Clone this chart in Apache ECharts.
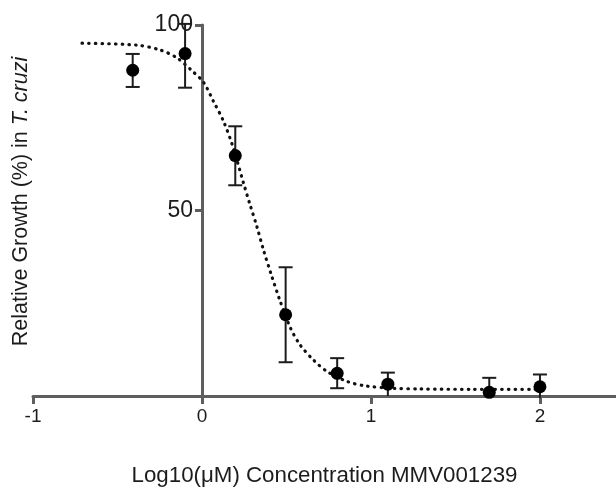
<!DOCTYPE html>
<html>
<head>
<meta charset="utf-8">
<script src="https://cdn.jsdelivr.net/npm/echarts@6/dist/echarts.min.js"></script>
<style>
  html, body { margin: 0; padding: 0; background: #fff; }
  #chart { width: 616px; height: 487px; }
</style>
</head>
<body>
<div id="chart"></div>
<script>
// measured points: log10 concentration vs relative growth (%)
var logConc  = [-0.41, -0.10, 0.197, 0.495, 0.80, 1.10, 1.70, 2.00];
var growth   = [87.8, 92.3, 64.8, 21.9, 6.1, 3.2, 1.0, 2.5];
var errHigh  = [92.2, 100.3, 72.7, 34.7, 10.2, 6.3, 4.9, 5.8];
var errLow   = [83.3, 83.1, 56.8, 9.1, 2.1, 0, 0, -0.5];

// fitted dotted curve
var curveX = [-0.71, -0.39, -0.25, -0.15, -0.06, 0.01, 0.067, 0.126, 0.18, 0.245, 0.284, 0.324,
              0.363, 0.41, 0.46, 0.52, 0.58, 0.66, 0.74, 0.86, 0.97, 1.13, 1.29, 1.6, 2.0];
var curveY = [95.1, 94.6, 93.3, 91.2, 87.7, 84.5, 79.5, 74.2, 67.6, 57.5, 51.6, 45.8,
              39.5, 32.7, 25.9, 18.7, 13.8, 9.7, 6.6, 3.9, 2.7, 2.1, 1.9, 1.8, 1.8];

var xTicks = [-1, 0, 1, 2];
var yTicks = [50, 100];
var xMin = -1, xMax = 2.45;

var font = 'Liberation Sans, Arial, Helvetica, sans-serif';
var axisColor = '#5e5e5e';
var ink = '#1c1c1c';

var points = logConc.map(function (x, i) { return [x, growth[i]]; });
var bars = logConc.map(function (x, i) { return [x, growth[i], errLow[i], errHigh[i]]; });
var curve = curveX.map(function (x, i) { return [x, curveY[i]]; });

var gridLeft = 33, gridRight = 0;
var gridWidth = 616 - gridLeft - gridRight;
// y axis crosses at x = 0: shift it inward from the grid's left edge
var yShift = -(0 - xMin) / (xMax - xMin) * gridWidth;

var chart = echarts.init(document.getElementById('chart'));
chart.setOption({
  animation: false,
  backgroundColor: '#fff',
  grid: { left: gridLeft, right: gridRight, top: 25, bottom: 91, outerBoundsMode: 'none', containLabel: false },
  xAxis: {
    type: 'value',
    min: xMin,
    max: xMax,
    splitLine: { show: false },
    axisLine: { onZero: false, lineStyle: { color: axisColor, width: 3 } },
    axisTick: { show: true, customValues: xTicks, length: 8, lineStyle: { color: axisColor, width: 3 } },
    axisLabel: { customValues: xTicks, margin: 11, color: ink, fontSize: 19, fontFamily: font },
    name: 'Log10(μM) Concentration MMV001239',
    nameLocation: 'middle',
    nameGap: 69,
    nameTextStyle: { color: ink, fontSize: 22.3, fontFamily: font }
  },
  yAxis: {
    type: 'value',
    min: 0,
    max: 100,
    offset: yShift,
    splitLine: { show: false },
    axisLine: { onZero: false, lineStyle: { color: axisColor, width: 3 } },
    axisTick: { show: true, customValues: yTicks, length: 7, lineStyle: { color: axisColor, width: 3 } },
    axisLabel: { customValues: yTicks, margin: 9, color: ink, fontSize: 23, fontFamily: font },
    name: 'Relative Growth (%) in {i|T. cruzi}',
    nameLocation: 'middle',
    nameGap: 170,
    nameTextStyle: {
      color: ink, fontSize: 21.5, fontFamily: font, padding: [0, 0, 0, 18],
      rich: { i: { fontStyle: 'italic', color: ink, fontSize: 21.5, fontFamily: font } }
    }
  },
  series: [
    {
      type: 'line',
      data: curve,
      smooth: 0.3,
      symbol: 'none',
      z: 2,
      lineStyle: { color: '#111', width: 3.2, type: [0.5, 6.2], cap: 'round' }
    },
    {
      type: 'custom',
      data: bars,
      clip: false,
      z: 3,
      encode: { x: 0, y: [2, 3] },
      renderItem: function (params, api) {
        var x = api.value(0);
        var lo = api.value(2);
        var hi = api.value(3);
        var top = api.coord([x, hi]);
        var bot = api.coord([x, lo]);
        var half = 7;
        var style = { stroke: ink, lineWidth: 2 };
        var kids = [
          { type: 'line', shape: { x1: top[0], y1: top[1], x2: bot[0], y2: bot[1] }, style: style },
          { type: 'line', shape: { x1: top[0] - half, y1: top[1], x2: top[0] + half, y2: top[1] }, style: style }
        ];
        if (lo > 1) {
          kids.push({ type: 'line', shape: { x1: bot[0] - half, y1: bot[1], x2: bot[0] + half, y2: bot[1] }, style: style });
        }
        return { type: 'group', children: kids };
      }
    },
    {
      type: 'scatter',
      data: points,
      symbol: 'circle',
      symbolSize: 13,
      z: 4,
      itemStyle: { color: '#000', opacity: 1 }
    }
  ]
});
</script>
</body>
</html>
